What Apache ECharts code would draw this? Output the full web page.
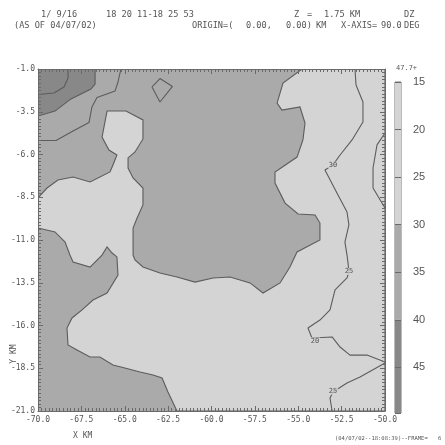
<!DOCTYPE html>
<html>
<head>
<meta charset="utf-8">
<script src="https://cdn.jsdelivr.net/npm/echarts@6/dist/echarts.min.js"></script>
<style>
  html, body { margin: 0; padding: 0; background: #ffffff; }
  #chart { width: 445px; height: 445px; }
</style>
</head>
<body>
<div id="chart"></div>
<script>
// Reflectivity (DZ) at Z = 1.75 km, contoured every 5 dBZ; coordinates in km.

// Colour scale bands (dBZ) and their labelled levels
const scaleBands = [[15, 30], [30, 40], [40, 49.8]];
const scaleLevels = [15, 20, 25, 30, 35, 40, 45];

// Region below 30 dBZ (light band), outlined by the 30 contour
const region30 = [
  [-70, -8.54], [-69.48, -7.96], [-68.85, -7.49], [-67.98, -7.32], [-67.00, -7.61],
  [-65.85, -7.02], [-65.68, -6.61], [-65.45, -6.03], [-65.91, -5.74], [-66.31, -4.98],
  [-66.02, -3.46], [-64.93, -3.46], [-63.95, -3.98], [-63.95, -5.09], [-64.41, -5.85],
  [-64.81, -6.20], [-64.81, -6.79], [-64.52, -7.37], [-63.95, -7.96], [-63.95, -8.95],
  [-64.29, -9.71], [-64.52, -10.30], [-64.52, -11.12], [-64.52, -11.88], [-64.41, -12.17],
  [-63.95, -12.58], [-62.97, -12.93], [-61.99, -13.16], [-60.95, -13.46], [-59.91, -13.22],
  [-58.93, -13.16], [-57.78, -13.51], [-57.03, -14.10], [-56.05, -13.51], [-55.48, -12.58],
  [-55.07, -11.70], [-53.75, -11.00], [-53.75, -10.01], [-54.03, -9.54], [-55.01, -9.48],
  [-55.76, -8.84], [-56.34, -7.67], [-56.34, -7.02], [-55.07, -6.15], [-54.73, -5.15],
  [-54.61, -4.16], [-54.90, -3.22], [-55.94, -3.40], [-56.22, -2.99], [-55.88, -1.82],
  [-54.78, -1.0], [-50, -1.0], [-50, -21.0], [-61.99, -21.0], [-62.10, -20.77],
  [-62.51, -19.89], [-62.85, -19.07], [-63.37, -18.89], [-64.12, -18.72], [-64.99, -18.49],
  [-65.68, -18.31], [-66.43, -17.84], [-67.00, -17.84], [-67.75, -17.43], [-68.27, -17.14],
  [-68.33, -16.15], [-68.04, -15.56], [-67.46, -15.09], [-66.83, -14.51], [-66.02, -14.10],
  [-65.39, -13.05], [-65.45, -11.99], [-65.73, -11.76], [-66.02, -11.41], [-66.31, -11.88],
  [-67.00, -12.58], [-67.98, -12.29], [-68.16, -11.88], [-68.44, -11.12], [-69.02, -10.53],
  [-70, -10.30]
];

// Region above 40 dBZ (dark band), outlined by the 40 contour
const region40 = [
  [-70, -1.0], [-66.71, -1.0], [-66.71, -1.88], [-66.95, -2.17], [-68.10, -2.75],
  [-69.02, -3.46], [-70, -3.75]
];

// Further contour lines
const contour45 = [[-70, -2.49], [-69.08, -2.40], [-68.50, -2.05], [-68.27, -1.53], [-68.27, -1.0]];
const contour35 = [
  [-70, -5.18], [-68.96, -5.18], [-67.98, -4.63], [-67.06, -4.13], [-66.89, -3.22],
  [-66.60, -2.67], [-65.56, -2.29], [-65.39, -1.76], [-65.22, -1.0]
];
const contour35Island = [[-63.43, -2.05], [-62.97, -1.56], [-62.25, -2.02], [-62.97, -2.93], [-63.43, -2.05]];
const contourEastA = [
  [-51.73, -1.0], [-51.67, -1.94], [-51.27, -2.93], [-51.27, -4.10], [-51.90, -5.15],
  [-52.59, -6.03], [-53.00, -6.61], [-53.46, -6.91], [-52.77, -8.25], [-52.19, -9.36],
  [-52.08, -10.12], [-52.31, -11.12], [-52.19, -11.88], [-52.13, -12.35], [-52.08, -12.87],
  [-52.19, -13.22], [-52.88, -13.92], [-53.17, -15.09], [-53.75, -15.68], [-54.44, -16.15],
  [-54.21, -16.73], [-53.05, -16.67], [-52.59, -17.26], [-52.02, -17.73], [-51.04, -17.73],
  [-50, -18.13]
];
const contourEastB = [
  [-50, -18.19], [-51.44, -19.01], [-52.19, -19.36], [-53.00, -19.89], [-53.17, -20.24],
  [-53.05, -21.0]
];
const contourEdge = [[-50, -4.74], [-50.46, -5.44], [-50.69, -6.79], [-50.69, -7.96], [-50, -9.13]];

// Contour labels: [x, y, level]
const contourLabels = [
  [-53.00, -6.61, '30'], [-52.08, -12.84, '25'], [-54.03, -16.90, '20'], [-53.00, -19.85, '25']
];

// Styling
const bandColors = ['#d4d4d4', '#aaaaaa', '#888888'];
const lineColor = '#5c5c5c';
const tickColor = '#6a6a6a';
const textColor = '#555555';
const mono = '"DejaVu Sans Mono", "Liberation Mono", monospace';

const chart = echarts.init(document.getElementById('chart'), null, { renderer: 'canvas' });

function polygonSeries(points, color) {
  return {
    type: 'custom',
    coordinateSystem: 'cartesian2d',
    xAxisIndex: 0, yAxisIndex: 0,
    data: points,
    silent: true,
    clip: true,
    z: 2,
    renderItem: function (params, api) {
      if (params.dataIndex !== 0) return null;
      const pts = points.map(function (p) { return api.coord(p); });
      return {
        type: 'polygon',
        shape: { points: pts },
        style: { fill: color, stroke: lineColor, lineWidth: 1.1 }
      };
    }
  };
}

function lineSeries(points) {
  return {
    type: 'line',
    xAxisIndex: 0, yAxisIndex: 0,
    data: points,
    symbol: 'none',
    showSymbol: false,
    silent: true,
    clip: true,
    z: 3,
    lineStyle: { color: lineColor, width: 1.1 }
  };
}

function text(str, x, y, size, opts) {
  opts = opts || {};
  return {
    type: 'text', x: x, y: y, rotation: opts.rotation || 0, silent: true,
    style: {
      text: str, fill: opts.color || textColor,
      font: size + 'px ' + (opts.family || mono),
      align: opts.align || 'left', verticalAlign: 'middle',
      textAlign: opts.align || 'left', textVerticalAlign: 'middle'
    }
  };
}

const fmt1 = function (v) { return Number(v).toFixed(1); };

// Frame axis: major ticks every 2.5 km with fine ticks between, all drawn inward
function frameAxis(pos, min, max, showLabels) {
  return {
    type: 'value', gridIndex: 0, position: pos, min: min, max: max, interval: 2.5,
    z: 10,
    splitLine: { show: false },
    axisLine: { show: true, onZero: false, lineStyle: { color: tickColor, width: 1 } },
    axisTick: { show: true, inside: true, length: 5, lineStyle: { color: tickColor } },
    minorTick: { show: true, splitNumber: 12, length: 3, lineStyle: { color: tickColor } },
    minorSplitLine: { show: false },
    axisLabel: {
      show: showLabels, formatter: fmt1, fontFamily: mono, fontSize: 8,
      color: textColor, margin: pos === 'bottom' ? 5 : 3
    }
  };
}

const option = {
  animation: false,
  backgroundColor: '#ffffff',
  grid: [
    { left: 38, top: 69, width: 347, height: 342, show: true,
      backgroundColor: bandColors[1], borderWidth: 0 },
    { left: 395, top: 82, width: 6, height: 331, show: true,
      backgroundColor: 'transparent', borderColor: '#777777', borderWidth: 1 }
  ],
  xAxis: [
    frameAxis('bottom', -70, -50, true),
    frameAxis('top', -70, -50, false),
    { type: 'category', gridIndex: 1, data: ['DZ'], show: false }
  ],
  yAxis: [
    frameAxis('left', -21, -1, true),
    frameAxis('right', -21, -1, false),
    {
      type: 'value', gridIndex: 1, inverse: true, min: 15, max: 49.8, interval: 5,
      position: 'right',
      axisLine: { show: false }, axisTick: { show: false },
      splitLine: { show: true, lineStyle: { color: tickColor, width: 1 } },
      axisLabel: {
        show: true, showMaxLabel: false, color: textColor, fontSize: 11,
        fontFamily: '"Liberation Sans", Arial, sans-serif', margin: 12
      },
      z: 10
    }
  ],
  series: [
    polygonSeries(region30, bandColors[0]),
    polygonSeries(region40, bandColors[2]),
    lineSeries(contour45),
    lineSeries(contour35),
    lineSeries(contour35Island),
    lineSeries(contourEastA),
    lineSeries(contourEastB),
    lineSeries(contourEdge),
    {
      type: 'scatter',
      xAxisIndex: 0, yAxisIndex: 0,
      data: contourLabels,
      symbolSize: 0.1,
      silent: true,
      z: 4,
      itemStyle: { color: 'transparent' },
      label: {
        show: true, position: 'inside',
        formatter: function (p) { return p.value[2]; },
        fontFamily: mono, fontSize: 7, color: '#333333',
        backgroundColor: bandColors[0], padding: [0, 1]
      }
    },
    {
      type: 'custom',
      coordinateSystem: 'cartesian2d',
      xAxisIndex: 2, yAxisIndex: 2,
      data: scaleBands.map(function (b, i) { return [0, b[0], b[1], i]; }),
      silent: true,
      z: 2,
      renderItem: function (params, api) {
        const top = api.coord([0, api.value(1)]);
        const bot = api.coord([0, api.value(2)]);
        const cs = params.coordSys;
        return {
          type: 'rect',
          shape: { x: cs.x, y: top[1], width: cs.width, height: bot[1] - top[1] },
          style: { fill: bandColors[api.value(3)] }
        };
      }
    }
  ],
  graphic: [
    text('1/ 9/16', 41, 15, 8.6),
    text('18 20 11-18 25 53', 106, 15, 8.6),
    text('Z', 294, 15, 8.6),
    text('=', 307, 15, 8.6),
    text('1.75 KM', 324, 15, 8.6),
    text('DZ', 404, 15, 8.6),
    text('(AS OF 04/07/02)', 14, 26, 8.6),
    text('ORIGIN=(', 192, 26, 8.6),
    text('0.00,', 246, 26, 8.6),
    text('0.00)', 286, 26, 8.6),
    text('KM', 316, 26, 8.6),
    text('X-AXIS=', 341, 26, 8.6),
    text('90.0', 381, 26, 8.6),
    text('DEG', 404, 26, 8.6),
    text('47.7+', 396, 68, 7),
    text('X KM', 73, 436, 8),
    text('Y KM', 14, 354, 8, { rotation: Math.PI / 2, align: 'center' }),
    text('(04/07/02--18:08:39)--FRAME=', 335, 439, 5.5),
    text('6', 438, 439, 5.5)
  ]
};

chart.setOption(option);
</script>
</body>
</html>
